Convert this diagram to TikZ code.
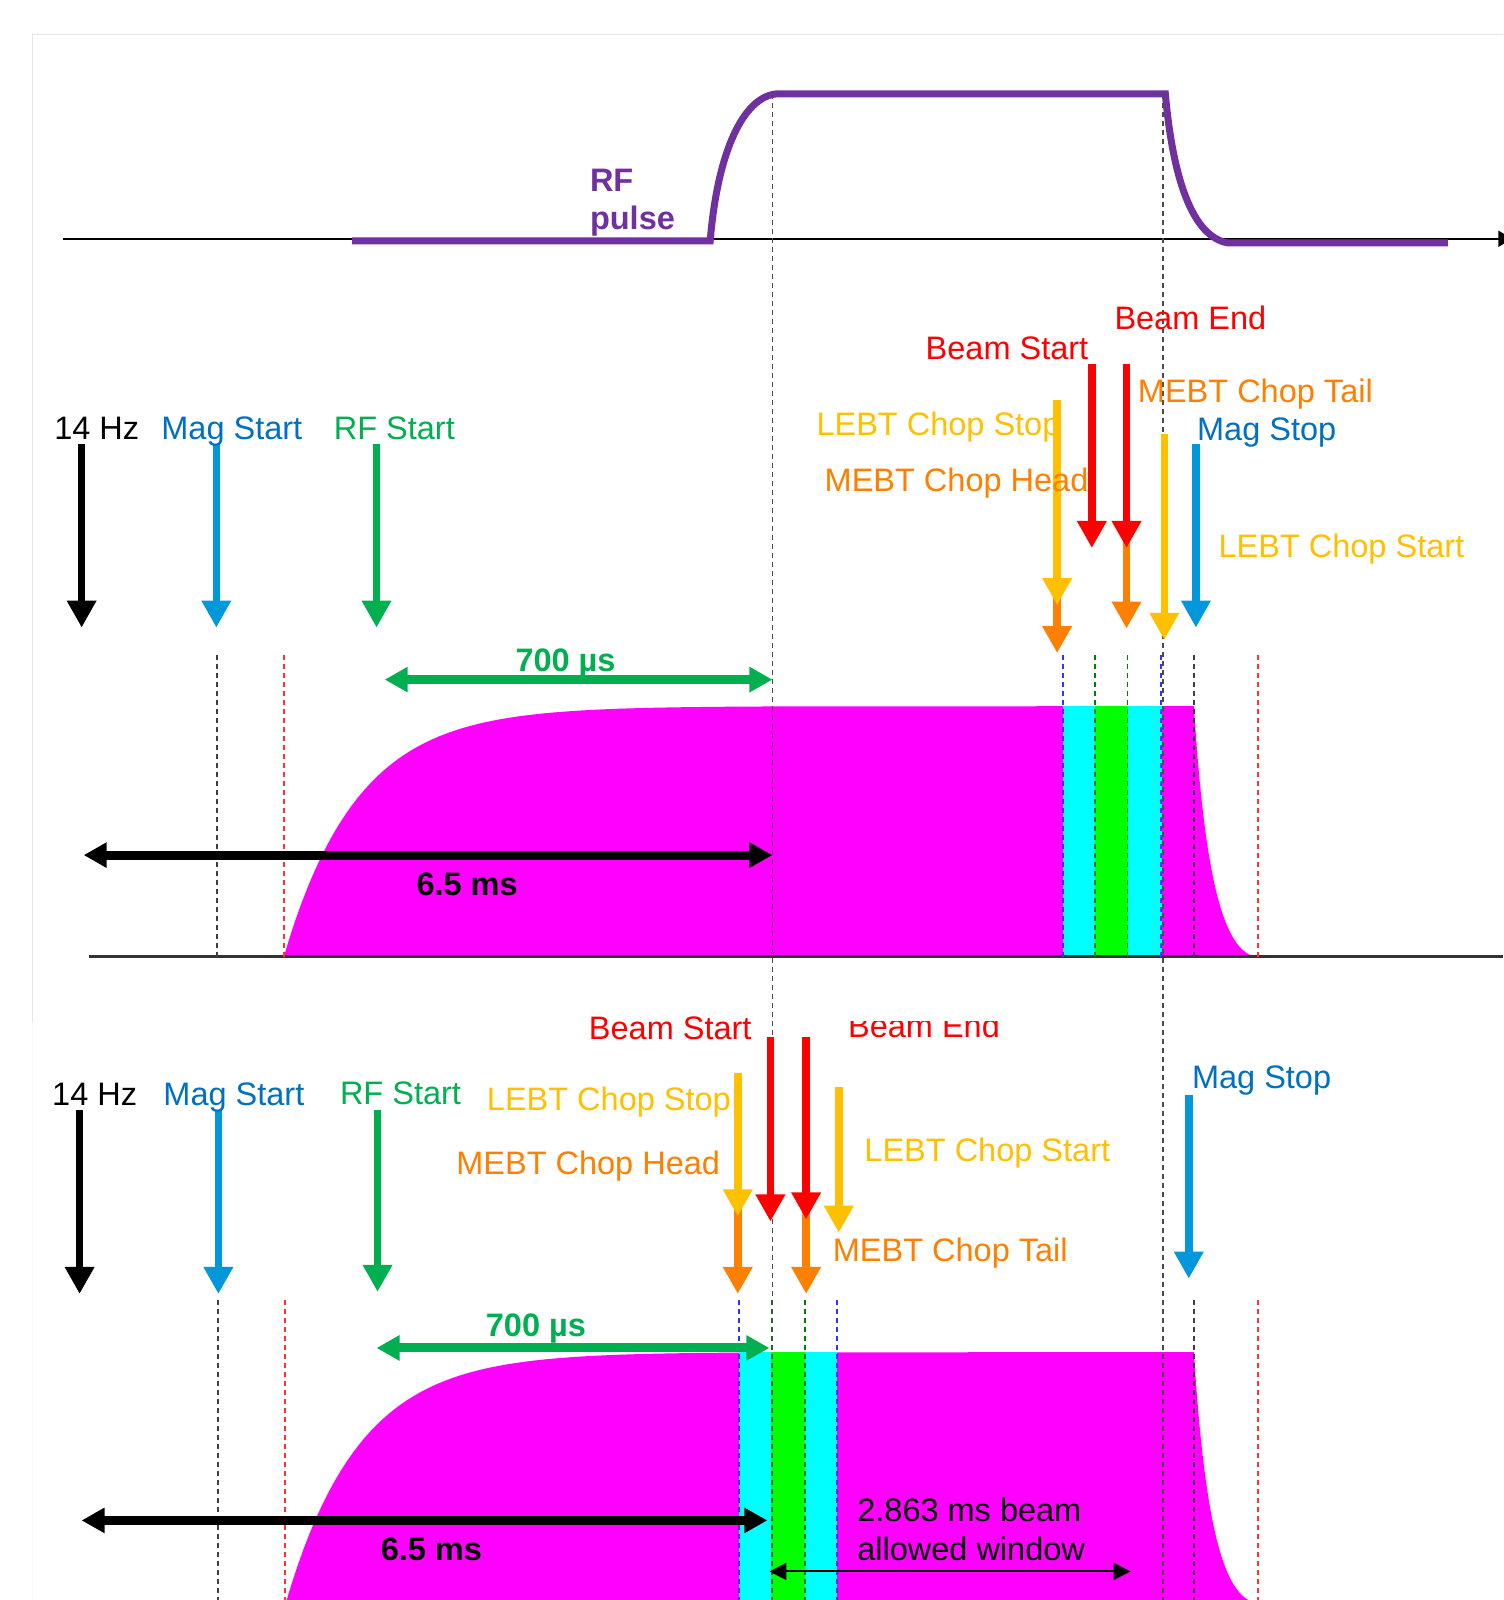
\documentclass[tikz,border=0pt]{standalone}
\usepackage{fontspec}
\setmainfont{Liberation Sans}
\usepackage{xcolor}
\usetikzlibrary{arrows.meta}

\definecolor{rfpurple}{HTML}{7030A0}
\definecolor{magblue}{HTML}{0070C0}
\definecolor{magarrow}{HTML}{0098DA}
\definecolor{rfgreen}{HTML}{00B050}
\definecolor{lebtyellow}{HTML}{FFC000}
\definecolor{mebtorange}{HTML}{FF8000}
\definecolor{beamred}{HTML}{FF0000}
\definecolor{beamfill}{HTML}{FF00FF}
\definecolor{chopcyan}{HTML}{00FFFF}
\definecolor{chopgreen}{HTML}{00FF00}

\begin{document}
\begin{tikzpicture}[
  x=1.0204pt, y=-1.0204pt,
  txt/.style={font=\fontsize{32.5}{36}\selectfont, inner sep=0pt, anchor=base west},
  sig/.style={line width=7.5pt, -{Triangle[width=28pt,length=27pt]}},
  spanarrow/.style={line width=9pt, {Triangle[width=24pt,length=23pt]}-{Triangle[width=24pt,length=23pt]}},
  guide/.style={line width=1.8pt, dash pattern=on 5pt off 4pt},
  rfline/.style={rfpurple, line width=7pt}
]
\useasboundingbox[fill=white] (0,0) rectangle (1473,1568);
\draw[gray!20, line width=1.5pt] (32,1002) -- (32,34) -- (1473,34);
\draw[gray!6, line width=1.5pt] (32,1002) -- (32,1568);

% RF pulse
\coordinate (axL) at (62,234);
\coordinate (axR) at (1482,234);
\draw[line width=2pt, -{Triangle[width=16pt,length=14pt]}] (axL) -- (axR);
\draw[rfline] (345,236) -- (696,236) .. controls (703,150) and (728,95) .. (761,92)
  -- (1142,92) .. controls (1150,180) and (1170,232) .. (1203,238) -- (1419,238);
\node[txt, rfpurple, font=\fontsize{32.5}{36}\selectfont\bfseries] (rfa) at (578,188) {RF};
\node[txt, rfpurple, font=\fontsize{32.5}{36}\selectfont\bfseries] (rfb) at (578,225) {pulse};

% beam current
\fill[beamfill] (278,938) -- plot[domain=0:480, samples=80] ({278+\x},{938-246*(1-exp(-\x/72))})
  -- (1170,692) .. controls (1180,850) and (1197,935) .. (1233,938) -- cycle;
\fill[chopcyan] (1042,692) rectangle (1073,938);
\fill[chopgreen] (1073,692) rectangle (1105,938);
\fill[chopcyan] (1105,692) rectangle (1139,938);
\begin{scope}
  \clip (0,0) rectangle (1473,1568);
  \fill[beamfill] (280,1571) -- plot[domain=0:470, samples=80] ({280+\x},{1571-246*(1-exp(-\x/72))})
    -- (1170,1325) .. controls (1180,1483) and (1197,1568) .. (1233,1571) -- cycle;
\end{scope}
\fill[chopcyan] (724,1325) rectangle (756,1568);
\fill[chopgreen] (756,1325) rectangle (789,1568);
\fill[chopcyan] (789,1325) rectangle (820,1568);

\coordinate (baseL) at (87,937);
\coordinate (baseR) at (1473,937);
\draw[black!80, line width=2.8pt] (baseL) -- (baseR);

% timing marks
\foreach \n/\x/\ya/\yb/\c in {gA1/213/642/938/black!75, gA2/278/642/938/red!80,
  gA3/1042/642/938/blue!80, gA4/1073/642/938/green!50!black, gA5/1105/642/938/green!50!black,
  gA6/1138/642/938/blue!80, gA7/1170/642/938/black!75, gA8/1233/642/938/red!80,
  gB1/214/1274/1568/black!75, gB2/279/1274/1568/red!80, gB3/724/1274/1568/blue!80,
  gB4/756/1274/1568/green!50!black, gB5/789/1274/1568/green!50!black, gB6/820/1274/1568/blue!80,
  gB7/1170/1274/1568/black!75, gB8/1233/1274/1568/red!80,
  gL1/757/92/1568/black!70, gL2/1140/92/1568/black!70} {
  \coordinate (\n-a) at (\x,\ya);
  \coordinate (\n-b) at (\x,\yb);
  \draw[guide, \c] (\n-a) -- (\n-b);
}

% trigger arrows
\foreach \n/\x/\ya/\yb/\c in {a14/80/435/615/black, aMagS/212/435/615/magarrow, aRFS/369/435/615/rfgreen,
  aHead/1036/575/640/mebtorange, aStop/1036/392/593/lebtyellow, aBS/1070/357/537/beamred,
  aTail/1104/520/616/mebtorange, aBE/1104/357/537/beamred, aStart/1141/425/627/lebtyellow,
  aMagE/1172/435/615/magarrow,
  b14/78/1088/1268/black, bMagS/214/1088/1268/magarrow, bRFS/370/1088/1266/rfgreen,
  bHead/723/1180/1268/mebtorange, bStop/723/1052/1192/lebtyellow, bBS/755/1016/1197/beamred,
  bTail/790/1180/1268/mebtorange, bBE/790/1016/1195/beamred, bStart/822/1065/1208/lebtyellow,
  bMagE/1165/1073/1253/magarrow} {
  \coordinate (\n-top) at (\x,\ya);
  \coordinate (\n-tip) at (\x,\yb);
  \draw[sig, \c] (\n-top) -- (\n-tip);
}

% spans
\coordinate (a700L) at (377,666);
\coordinate (a700R) at (757,666);
\draw[spanarrow, rfgreen] (a700L) -- (a700R);
\coordinate (a65L) at (82,838);
\coordinate (a65R) at (757,838);
\draw[spanarrow, black] (a65L) -- (a65R);
\coordinate (b700L) at (369,1321);
\coordinate (b700R) at (754,1321);
\draw[spanarrow, rfgreen] (b700L) -- (b700R);
\coordinate (b65L) at (80,1490);
\coordinate (b65R) at (752,1490);
\draw[spanarrow, black] (b65L) -- (b65R);
\coordinate (winL) at (754,1540);
\coordinate (winR) at (1108,1540);
\draw[line width=2pt, {Triangle[width=17pt,length=17pt]}-{Triangle[width=17pt,length=17pt]}] (winL) -- (winR);

% labels, upper
\node[txt, beamred] (aBEt) at (1092,323) {Beam End};
\node[txt, beamred] (aBSt) at (907,352) {Beam Start};
\node[txt, mebtorange] (aTailt) at (1115,394) {MEBT Chop Tail};
\node[txt, lebtyellow] (aStopt) at (800,427) {LEBT Chop Stop};
\node[txt, magblue] (aMagEt) at (1173,432) {Mag Stop};
\node[txt, mebtorange] (aHeadt) at (808,482) {MEBT Chop Head};
\node[txt, lebtyellow] (aStartt) at (1194,546) {LEBT Chop Start};
\node[txt] (a14t) at (53,431) {14 Hz};
\node[txt, magblue] (aMagSt) at (158,431) {Mag Start};
\node[txt, rfgreen] (aRFSt) at (327,431) {RF Start};
\node[txt, rfgreen, font=\fontsize{32.5}{36}\selectfont\bfseries] (a700t) at (505,658) {700 µs};
\node[txt, font=\fontsize{32.5}{36}\selectfont\bfseries] (a65t) at (408,878) {6.5 ms};

% labels, lower
\node[txt, beamred] (bBSt) at (577,1019) {Beam Start};
\begin{scope}
  \clip (0,1001) rectangle (1473,1568);
  \node[txt, beamred] (bBEt) at (831,1017) {Beam End};
\end{scope}
\node[txt] (b14t) at (51,1083) {14 Hz};
\node[txt, magblue] (bMagSt) at (160,1083) {Mag Start};
\node[txt, rfgreen] (bRFSt) at (333,1082) {RF Start};
\node[txt, lebtyellow] (bStopt) at (477,1088) {LEBT Chop Stop};
\node[txt, magblue] (bMagEt) at (1168,1067) {Mag Stop};
\node[txt, mebtorange] (bHeadt) at (447,1151) {MEBT Chop Head};
\node[txt, lebtyellow] (bStartt) at (847,1138) {LEBT Chop Start};
\node[txt, mebtorange] (bTailt) at (816,1236) {MEBT Chop Tail};
\node[txt, rfgreen, font=\fontsize{32.5}{36}\selectfont\bfseries] (b700t) at (476,1310) {700 µs};
\node[txt, font=\fontsize{32.5}{36}\selectfont\bfseries] (b65t) at (373,1529) {6.5 ms};
\node[txt] (bwin1) at (840,1491) {2.863 ms beam};
\node[txt] (bwin2) at (840,1529) {allowed window};
\end{tikzpicture}
\end{document}
